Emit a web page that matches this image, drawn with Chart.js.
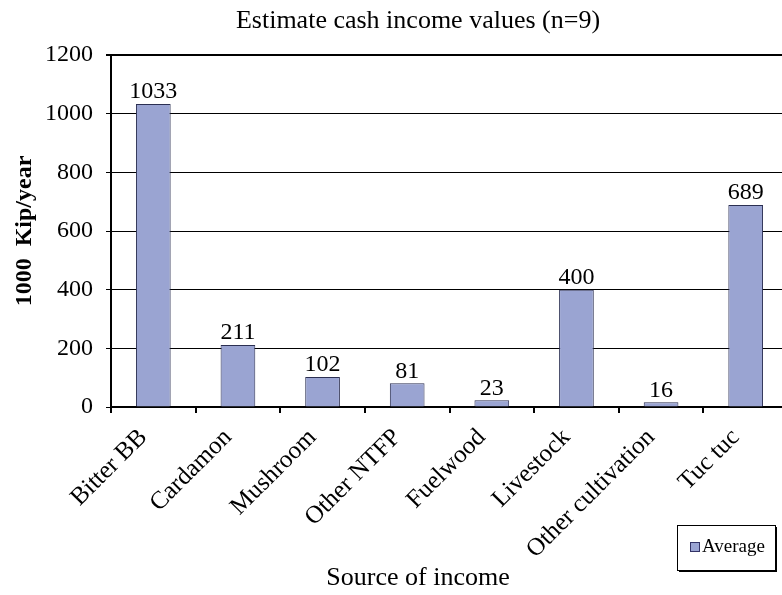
<!DOCTYPE html>
<html>
<head>
<meta charset="utf-8">
<script src="https://cdn.jsdelivr.net/npm/chart.js@4"></script>
<style>
  html, body { margin: 0; padding: 0; background: #fff; overflow: hidden; }
  #wrap { width: 788px; height: 595px; }
</style>
</head>
<body>
<div id="wrap"><canvas id="income-chart" width="788" height="595"></canvas></div>
<script>
const sources = ['Bitter BB', 'Cardamon', 'Mushroom', 'Other NTFP', 'Fuelwood', 'Livestock', 'Other cultivation', 'Tuc tuc'];
const averages = [1033, 211, 102, 81, 23, 400, 16, 689];
const yTicks = [0, 200, 400, 600, 800, 1000, 1200];
const chartTitle = 'Estimate cash income values (n=9)';
const xTitle = 'Source of income';

const serif = 'Liberation Serif, Times New Roman, serif';

// value labels above each bar
const barLabels = {
    id: 'barLabels',
    afterDatasetsDraw(chart) {
        const ctx = chart.ctx;
        const meta = chart.getDatasetMeta(0);
        ctx.save();
        ctx.font = '24px ' + serif;
        ctx.fillStyle = '#000';
        ctx.textAlign = 'center';
        ctx.textBaseline = 'bottom';
        meta.data.forEach((bar, i) => {
            ctx.fillText(String(averages[i]), bar.x, bar.y);
        });
        ctx.restore();
    }
};

// chart title and x axis title, both centred a bit left of the plot centre
const titles = {
    id: 'titles',
    afterDraw(chart) {
        const ctx = chart.ctx;
        ctx.save();
        ctx.fillStyle = '#000';
        ctx.font = '26px ' + serif;
        ctx.textAlign = 'center';
        ctx.textBaseline = 'middle';
        ctx.fillText(chartTitle, 418, 21);
        ctx.fillText(xTitle, 418, 578);
        ctx.restore();
    }
};

// boxed legend in the lower right corner
const boxLegend = {
    id: 'boxLegend',
    afterDraw(chart) {
        const ctx = chart.ctx;
        const x = 677, y = 525, w = 98, h = 45;
        ctx.save();
        ctx.fillStyle = '#000';
        ctx.fillRect(x + 2, y + 2, w, h);
        ctx.fillStyle = '#fff';
        ctx.fillRect(x, y, w, h);
        ctx.strokeStyle = '#000';
        ctx.lineWidth = 1;
        ctx.strokeRect(x + 0.5, y + 0.5, w, h);
        ctx.fillStyle = '#9aa4d2';
        ctx.fillRect(x + 13, y + 17, 10, 10);
        ctx.strokeStyle = '#333366';
        ctx.strokeRect(x + 13.5, y + 17.5, 9, 9);
        ctx.fillStyle = '#000';
        ctx.font = '19px ' + serif;
        ctx.textBaseline = 'middle';
        ctx.fillText(chart.data.datasets[0].label, x + 25, y + 22);
        ctx.restore();
    }
};

const ctx = document.getElementById('income-chart').getContext('2d');
const incomeChart = new Chart(ctx, {
    type: 'bar',
    data: {
        labels: sources,
        datasets: [{
            label: 'Average',
            data: averages,
            backgroundColor: '#9aa4d2',
            borderColor: '#2b2f52',
            borderWidth: 1,
            barPercentage: 0.41,
            categoryPercentage: 1,
        }],
    },
    options: {
        responsive: false,
        animation: false,
        layout: { padding: { top: 55, right: 0, bottom: 2, left: 8 } },
        plugins: {
            legend: { display: false },
            tooltip: { enabled: false },
            title: { display: false },
        },
        scales: {
            y: {
                min: 0,
                max: 1200,
                afterBuildTicks(axis) {
                    axis.ticks = yTicks.map(v => ({ value: v }));
                },
                afterFit(axis) {
                    axis.width = 103;
                },
                border: { display: true, color: '#000', width: 2 },
                grid: {
                    color: '#000',
                    lineWidth: c => (c.tick && c.tick.value === 1200 ? 2 : 1),
                    tickLength: 5,
                },
                ticks: {
                    color: '#000',
                    padding: 13,
                    font: { family: serif, size: 24 },
                    callback: v => String(v),
                },
                title: {
                    display: true,
                    text: '1000  Kip/year',
                    color: '#000',
                    font: { family: serif, size: 24, weight: 'bold' },
                    padding: { top: 2, bottom: 0 },
                },
            },
            x: {
                afterFit(axis) {
                    axis.height = 186;
                },
                border: { display: true, color: '#000', width: 2 },
                grid: { display: true, drawOnChartArea: false, color: '#000', lineWidth: 2, tickLength: 6, offset: true },
                ticks: {
                    color: '#000',
                    minRotation: 45,
                    maxRotation: 45,
                    padding: 10,
                    labelOffset: -10,
                    font: { family: serif, size: 25 },
                },
            },
        },
    },
    plugins: [barLabels, titles, boxLegend],
});
</script>
</body>
</html>
